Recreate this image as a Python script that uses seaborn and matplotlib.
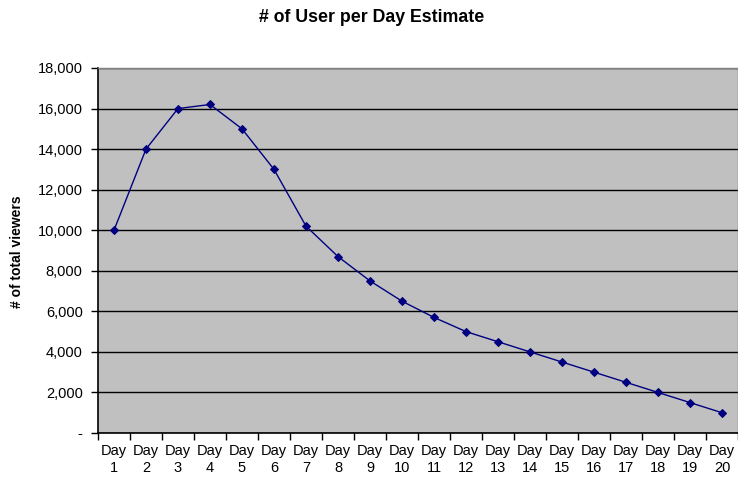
import matplotlib
matplotlib.use("Agg")
import matplotlib.pyplot as plt
import seaborn as sns
import pandas as pd
import numpy as np
from matplotlib.ticker import FixedLocator, FuncFormatter

days = [f"Day\n{i}" for i in range(1, 21)]
users = [10000, 14000, 16000, 16200, 15000, 13000, 10200, 8700, 7500, 6500,
         5700, 5000, 4500, 4000, 3500, 3000, 2500, 2000, 1500, 1000]
y_ticks = [0, 2000, 4000, 6000, 8000, 10000, 12000, 14000, 16000, 18000]

sns.set_style("white")
plt.rcParams['font.family'] = ['Liberation Sans', 'DejaVu Sans']
plt.rcParams['text.color'] = 'black'
plt.rcParams['xtick.color'] = 'black'
plt.rcParams['ytick.color'] = 'black'

df = pd.DataFrame({"pos": np.arange(len(days)), "users": users})

fig = plt.figure(figsize=(7.38, 4.83), dpi=100)
ax = fig.add_axes([98/738, 1-433/483, 1-98/738, (433-68)/483])
ax.set_facecolor("#C0C0C0")

sns.lineplot(data=df, x="pos", y="users", ax=ax, color="#000080", linewidth=1,
             marker="D", markersize=4.5, markeredgecolor="#000080", zorder=3)

ax.set_xlim(-0.5, len(days) - 0.5)
ax.set_ylim(0, 18000)
ax.yaxis.set_major_locator(FixedLocator(y_ticks))
ax.yaxis.set_major_formatter(FuncFormatter(lambda v, p: "-" if v == 0 else f"{int(v):,}"))
ax.grid(axis="y", color="black", linewidth=1)
ax.set_axisbelow(True)

ax.set_xticks(np.arange(len(days)))
ax.set_xticklabels(days, fontsize=10.5, linespacing=1.25)
ax.set_xticks(np.arange(len(days) + 1) - 0.5, minor=True)
ax.tick_params(axis="x", which="major", length=0, pad=8, labelcolor="black")
ax.tick_params(axis="x", which="minor", length=5, width=1, color="black", direction="out")
ax.tick_params(axis="y", which="major", length=5, width=1, color="black", direction="out",
               labelsize=10.5, pad=6, labelcolor="black")
ax.tick_params(bottom=True, left=True, which="both")

for s in ["left", "bottom"]:
    ax.spines[s].set_color("black")
    ax.spines[s].set_linewidth(1.2)
for s in ["top", "right"]:
    ax.spines[s].set_color("#808080")
    ax.spines[s].set_linewidth(1)

ax.set_xlabel("")
ax.set_ylabel("")
fig.text(17/738, 1-252/483, "# of total viewers", rotation=90, ha="center", va="center",
         fontsize=10, fontweight="bold", color="black")
fig.text(372/738, 1-17/483, "# of User per Day Estimate", ha="center", va="center",
         fontsize=12.8, fontweight="bold", color="black")

fig.savefig("out.png", dpi=100)
